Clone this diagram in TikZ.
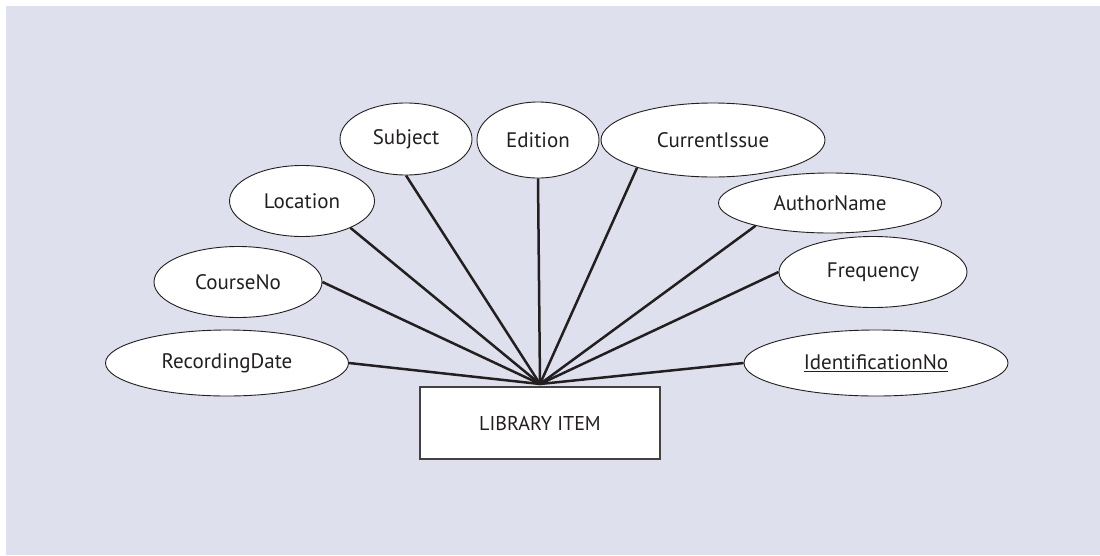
\documentclass[tikz,border=0pt]{standalone}
\usepackage{fontspec}
\setmainfont{PT Sans}
\usetikzlibrary{shapes.geometric}
\definecolor{bg}{RGB}{223,224,238}
\definecolor{ink}{RGB}{35,31,32}
\begin{document}
\begin{tikzpicture}[x=1pt,y=-1pt,
  attr/.style 2 args={ellipse, draw=ink, line width=0.9pt, fill=white, inner sep=0pt,
    minimum width=#1, minimum height=#2, text=ink, font=\fontsize{21}{24}\selectfont},
  entity/.style={rectangle, draw=ink!85, line width=1.2pt, fill=white, inner sep=0pt,
    minimum width=240, minimum height=72, text=ink, font=\fontsize{20}{24}\selectfont},
  link/.style={draw=ink, line width=2.5pt}]
\useasboundingbox (0,0) rectangle (1100,555);
\fill[white] (0,0) rectangle (1100,555);
\fill[bg] (6,6) rectangle (1100,555);
\node[entity] (li) at (540,423) {LIBRARY ITEM};
\coordinate (hub) at (540,384);
\node[attr={243}{66}] (rd) at (227,363) {RecordingDate};
\node[attr={168}{71}] (cn) at (238,282) {CourseNo};
\node[attr={145}{71}] (lo) at (302,201) {Location};
\node[attr={132}{72}] (sj) at (406,139) {Subject};
\node[attr={122}{76}] (ed) at (538,140) {Edition};
\node[attr={224}{74}] (ci) at (713,140) {CurrentIssue};
\node[attr={223}{60}] (an) at (830,203) {AuthorName};
\node[attr={188}{71}] (fr) at (873,272) {Frequency};
\node[attr={264}{66}] (id) at (876,363) {\underline{IdentificationNo}};
\draw[link] (rd.east) -- (hub);
\draw[link] (cn.east) -- (hub);
\draw[link] (lo.-29) -- (hub);
\draw[link] (sj.south) -- (hub);
\draw[link] (ed.south) -- (hub);
\draw[link] (ci.-160) -- (hub);
\draw[link] (an.-163) -- (hub);
\draw[link] (fr.west) -- (hub);
\draw[link] (id.west) -- (hub);
\end{tikzpicture}
\end{document}
